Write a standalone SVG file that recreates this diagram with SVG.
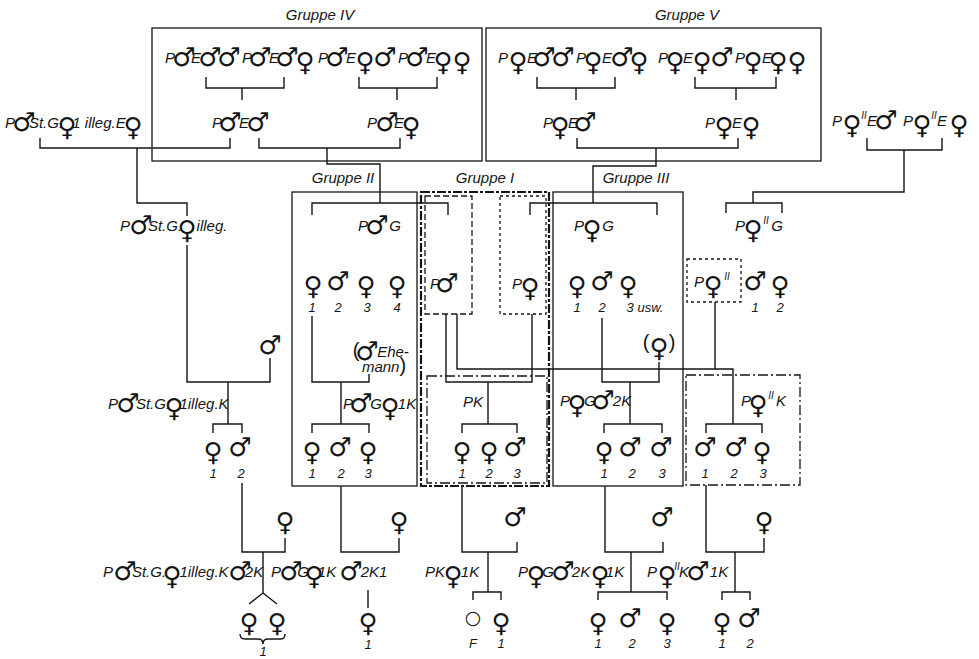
<svg xmlns="http://www.w3.org/2000/svg" width="979" height="659" viewBox="0 0 979 659">
<style>
.c{fill:none;stroke:#151515;stroke-width:1.4}
.bx{fill:none;stroke:#151515;stroke-width:1.3}
.dash{stroke-dasharray:6 3}
.dot{stroke-dasharray:3 3}
.dd{stroke-dasharray:10 3 2 3}
.heavy{fill:none;stroke:#151515;stroke-width:2.2;stroke-dasharray:9 2 3 2}
text{font-family:"Liberation Sans",Arial,sans-serif;font-style:italic;font-size:15px;fill:#151515;text-anchor:middle}
.f,.m{font-family:"DejaVu Sans",sans-serif;font-style:normal;font-size:26px}
.f{baseline-shift:-8px}
.m{baseline-shift:-3px}
.o{font-family:"DejaVu Sans",sans-serif;font-style:normal;font-size:19px}
.sup{font-size:10px;baseline-shift:7px}
.par{font-size:20px;font-style:normal}
.n{font-size:13px}
</style>

<g id="boxes">
<g id="box-gruppe-IV"><rect class="bx" x="152" y="28" width="330" height="133"/><text x="320" y="20">Gruppe IV</text></g>
<g id="box-gruppe-V"><rect class="bx" x="486" y="28" width="335" height="133"/><text x="687" y="20">Gruppe V</text></g>
<g id="box-gruppe-II"><rect class="bx" x="292" y="192" width="125" height="294"/><text x="343" y="183">Gruppe II</text></g>
<g id="box-gruppe-I"><rect class="heavy" x="421" y="192" width="128" height="294"/><text x="485" y="183">Gruppe I</text>
<rect class="bx dash" x="425" y="196" width="47" height="118"/>
<rect class="bx dot" x="500" y="196" width="46" height="118"/>
<rect class="bx dd" x="427" y="376" width="120" height="107"/></g>
<g id="box-gruppe-III"><rect class="bx" x="553" y="192" width="130" height="294"/><text x="636" y="183">Gruppe III</text></g>
<g id="box-PII"><rect class="bx dot" x="687" y="259" width="54" height="43"/></g>
<g id="box-PIIK"><rect class="bx dd" x="686" y="375" width="114" height="110"/></g>
</g>

<g id="connectors" class="c">
<path d="M206,77V88H284V77M242,88V100"/>
<path d="M359,77V88H437V77M397,88V100"/>
<path d="M537,77V88H615V77M576,88V100"/>
<path d="M695,77V88H776V77M736,88V100"/>
<path d="M40,138V148H230V138M137,148V203H187V216"/>
<path d="M259,138V148H400V138M327,148V164H380V203M312,215V203H448V215"/>
<path d="M577,138V148H738V138M656,148V166H593V203M530,215V203H657V215"/>
<path d="M867,138V150H942V138M904,150V192H753V203M726,213V203H782V213"/>
<path d="M187,245V382H270V358M228,382V424M213,433V424H242V433"/>
<path d="M312,316V382H369V374M341,382V424M312,433V424H369V433"/>
<path d="M446,314V382H532V314M488,382V424M462,433V424H517V433"/>
<path d="M457,314V369H733V424M715,302V369M706,433V424H762V433"/>
<path d="M602,318V382H659V362M630,382V424M604,433V424H662V433"/>
<path d="M242,483V552H285V538M263,552V593L249,604M263,593L277,604"/>
<path d="M240,634Q240,639 245,639H258Q263,639 263,644Q263,639 268,639H281Q285,639 285,634"/>
<path d="M341,486V552H399V538M368,590V608"/>
<path d="M462,485V552H517V542M488,552V592M473,600V592H501V600"/>
<path d="M605,486V552H663V542M631,552V592M598,600V592H667V600"/>
<path d="M706,485V552H764V538M735,552V592M722,600V592H750V600"/>
</g>

<g id="n-IV-a"><text y="63"><tspan x="170">P</tspan><tspan class="m" x="184">♂</tspan><tspan x="196">E</tspan><tspan class="m" x="210">♂</tspan><tspan class="m" x="229">♂</tspan><tspan x="247">P</tspan><tspan class="m" x="260">♂</tspan><tspan x="274">E</tspan><tspan class="m" x="287">♂</tspan><tspan class="f" x="305">♀</tspan></text></g>
<g id="n-IV-b"><text y="63"><tspan x="323">P</tspan><tspan class="m" x="337">♂</tspan><tspan x="351">E</tspan><tspan class="f" x="365">♀</tspan><tspan class="m" x="385">♂</tspan><tspan x="403">P</tspan><tspan class="m" x="417">♂</tspan><tspan x="431">E</tspan><tspan class="f" x="443">♀</tspan><tspan class="f" x="462">♀</tspan></text></g>
<g id="n-V-a"><text y="63"><tspan x="503">P</tspan><tspan class="f" x="518">♀</tspan><tspan x="532">E</tspan><tspan class="m" x="544">♂</tspan><tspan class="m" x="563">♂</tspan><tspan x="581">P</tspan><tspan class="f" x="593">♀</tspan><tspan x="607">E</tspan><tspan class="m" x="622">♂</tspan><tspan class="f" x="639">♀</tspan></text></g>
<g id="n-V-b"><text y="63"><tspan x="663">P</tspan><tspan class="f" x="675">♀</tspan><tspan x="688">E</tspan><tspan class="f" x="702">♀</tspan><tspan class="m" x="722">♂</tspan><tspan x="740">P</tspan><tspan class="f" x="753">♀</tspan><tspan x="767">E</tspan><tspan class="f" x="778">♀</tspan><tspan class="f" x="797">♀</tspan></text></g>

<g id="n-illeg-E"><text y="128"><tspan x="10">P</tspan><tspan class="m" x="24">♂</tspan><tspan x="46">St.G.</tspan><tspan class="f" x="67">♀</tspan><tspan x="99">1 illeg.E</tspan><tspan class="f" x="133">♀</tspan></text></g>
<g id="n-IV-c"><text y="128"><tspan x="217">P</tspan><tspan class="m" x="230">♂</tspan><tspan x="244">E</tspan><tspan class="m" x="258">♂</tspan></text></g>
<g id="n-IV-d"><text y="128"><tspan x="372">P</tspan><tspan class="m" x="387">♂</tspan><tspan x="399">E</tspan><tspan class="f" x="411">♀</tspan></text></g>
<g id="n-V-c"><text y="128"><tspan x="548">P</tspan><tspan class="f" x="560">♀</tspan><tspan x="573">E</tspan><tspan class="m" x="585">♂</tspan></text></g>
<g id="n-V-d"><text y="128"><tspan x="710">P</tspan><tspan class="f" x="724">♀</tspan><tspan x="737">E</tspan><tspan class="f" x="751">♀</tspan></text></g>
<g id="n-II-E"><text y="126"><tspan x="837">P</tspan><tspan class="f" x="852">♀</tspan><tspan class="sup" x="864">II</tspan><tspan x="872">E</tspan><tspan class="m" x="886">♂</tspan><tspan x="908">P</tspan><tspan class="f" x="922">♀</tspan><tspan class="sup" x="934">II</tspan><tspan x="942">E</tspan><tspan class="f" x="959">♀</tspan></text></g>

<g id="n-illeg"><text y="231"><tspan x="125">P</tspan><tspan class="m" x="141">♂</tspan><tspan x="165">St.G.</tspan><tspan class="f" x="187">♀</tspan><tspan x="212">illeg.</tspan></text></g>
<g id="n-II-G"><text y="231"><tspan x="363">P</tspan><tspan class="m" x="377">♂</tspan><tspan x="395">G</tspan></text></g>
<g id="n-III-G"><text y="231"><tspan x="579">P</tspan><tspan class="f" x="592">♀</tspan><tspan x="608">G</tspan></text></g>
<g id="n-PII-G"><text y="231"><tspan x="740">P</tspan><tspan class="f" x="753">♀</tspan><tspan class="sup" x="766">II</tspan><tspan x="777">G</tspan></text></g>

<g id="n-II-children"><text y="287"><tspan class="f" x="313">♀</tspan><tspan class="m" x="338">♂</tspan><tspan class="f" x="366">♀</tspan><tspan class="f" x="397">♀</tspan></text>
<text class="n" y="312"><tspan x="312">1</tspan><tspan x="338">2</tspan><tspan x="367">3</tspan><tspan x="397">4</tspan></text></g>
<g id="n-I-m"><text y="289"><tspan x="435">P</tspan><tspan class="m" x="447">♂</tspan></text></g>
<g id="n-I-f"><text y="289"><tspan x="517">P</tspan><tspan class="f" x="530">♀</tspan></text></g>
<g id="n-III-children"><text y="287"><tspan class="f" x="577">♀</tspan><tspan class="m" x="602">♂</tspan><tspan class="f" x="628">♀</tspan></text>
<text class="n" y="312"><tspan x="577">1</tspan><tspan x="602">2</tspan><tspan x="645">3 usw.</tspan></text></g>
<g id="n-PII"><text y="287"><tspan x="699">P</tspan><tspan class="f" x="713">♀</tspan><tspan class="sup" x="727">II</tspan></text></g>
<g id="n-PII-children"><text y="287"><tspan class="m" x="755">♂</tspan><tspan class="f" x="780">♀</tspan></text>
<text class="n" y="312"><tspan x="755">1</tspan><tspan x="780">2</tspan></text></g>

<g id="n-ehemann"><text y="357"><tspan class="par" x="356">(</tspan><tspan class="m" x="367">♂</tspan><tspan x="393">Ehe-</tspan></text><text x="384" y="372"><tspan>mann</tspan><tspan class="par">)</tspan></text></g>
<g id="n-III-spouse"><text y="349"><tspan class="par" x="646">(</tspan><tspan class="f" x="659">♀</tspan><tspan class="par" x="672">)</tspan></text></g>
<g id="n-left-spouse"><text y="351"><tspan class="m" x="270">♂</tspan></text></g>

<g id="n-illeg-K"><text y="409"><tspan x="113">P</tspan><tspan class="m" x="128">♂</tspan><tspan x="153">St.G.</tspan><tspan class="f" x="174">♀</tspan><tspan x="204">1illeg.K</tspan></text></g>
<g id="n-II-1K"><text y="409"><tspan x="348">P</tspan><tspan class="m" x="361">♂</tspan><tspan x="376">G</tspan><tspan class="f" x="390">♀</tspan><tspan x="407">1K</tspan></text></g>
<g id="n-PK"><text x="473" y="407">PK</text></g>
<g id="n-III-2K"><text y="406"><tspan x="565">P</tspan><tspan class="f" x="577">♀</tspan><tspan x="590">G</tspan><tspan class="m" x="603">♂</tspan><tspan x="622">2K</tspan></text></g>
<g id="n-PIIK"><text y="406"><tspan x="746">P</tspan><tspan class="f" x="758">♀</tspan><tspan class="sup" x="771">II</tspan><tspan x="781">K</tspan></text></g>

<g id="n-illeg-K-children"><text y="453"><tspan class="f" x="213">♀</tspan><tspan class="m" x="240">♂</tspan></text><text class="n" y="478"><tspan x="213">1</tspan><tspan x="241">2</tspan></text></g>
<g id="n-II-1K-children"><text y="453"><tspan class="f" x="312">♀</tspan><tspan class="m" x="340">♂</tspan><tspan class="f" x="368">♀</tspan></text><text class="n" y="478"><tspan x="312">1</tspan><tspan x="341">2</tspan><tspan x="368">3</tspan></text></g>
<g id="n-PK-children"><text y="453"><tspan class="f" x="462">♀</tspan><tspan class="f" x="489">♀</tspan><tspan class="m" x="515">♂</tspan></text><text class="n" y="478"><tspan x="462">1</tspan><tspan x="489">2</tspan><tspan x="517">3</tspan></text></g>
<g id="n-III-2K-children"><text y="453"><tspan class="f" x="604">♀</tspan><tspan class="m" x="630">♂</tspan><tspan class="m" x="661">♂</tspan></text><text class="n" y="478"><tspan x="604">1</tspan><tspan x="632">2</tspan><tspan x="662">3</tspan></text></g>
<g id="n-PIIK-children"><text y="453"><tspan class="m" x="705">♂</tspan><tspan class="m" x="736">♂</tspan><tspan class="f" x="762">♀</tspan></text><text class="n" y="478"><tspan x="705">1</tspan><tspan x="734">2</tspan><tspan x="763">3</tspan></text></g>

<g id="n-spouse-1"><text y="523"><tspan class="f" x="285">♀</tspan></text></g>
<g id="n-spouse-2"><text y="523"><tspan class="f" x="399">♀</tspan></text></g>
<g id="n-spouse-3"><text y="523"><tspan class="m" x="515">♂</tspan></text></g>
<g id="n-spouse-4"><text y="523"><tspan class="m" x="662">♂</tspan></text></g>
<g id="n-spouse-5"><text y="523"><tspan class="f" x="764">♀</tspan></text></g>

<g id="n-illeg-K-2K"><text y="577"><tspan x="108">P</tspan><tspan class="m" x="125">♂</tspan><tspan x="149">St.G.</tspan><tspan class="f" x="172">♀</tspan><tspan x="204">1illeg.K</tspan><tspan class="m" x="240">♂</tspan><tspan x="254">2K</tspan></text></g>
<g id="n-II-2K1"><text y="577"><tspan x="276">P</tspan><tspan class="m" x="291">♂</tspan><tspan x="303">G</tspan><tspan class="f" x="314">♀</tspan><tspan x="327">1K</tspan><tspan class="m" x="351">♂</tspan><tspan x="374">2K1</tspan></text></g>
<g id="n-PK-1K"><text y="577"><tspan x="435">PK</tspan><tspan class="f" x="453">♀</tspan><tspan x="470">1K</tspan></text></g>
<g id="n-III-1K"><text y="577"><tspan x="523">P</tspan><tspan class="f" x="536">♀</tspan><tspan x="548">G</tspan><tspan class="m" x="563">♂</tspan><tspan x="581">2K</tspan><tspan class="f" x="600">♀</tspan><tspan x="615">1K</tspan></text></g>
<g id="n-PIIK-1K"><text y="577"><tspan x="652">P</tspan><tspan class="f" x="667">♀</tspan><tspan class="sup" x="677">II</tspan><tspan x="684">K</tspan><tspan class="m" x="698">♂</tspan><tspan x="719">1K</tspan></text></g>

<g id="n-twins"><text y="624"><tspan class="f" x="249">♀</tspan><tspan class="f" x="277">♀</tspan></text><text class="n" x="263" y="656">1</text></g>
<g id="n-II-2K1-child"><text y="624"><tspan class="f" x="368">♀</tspan></text><text class="n" x="368" y="649">1</text></g>
<g id="n-PK-1K-children"><text y="624"><tspan class="o" x="473">○</tspan><tspan class="f" x="501">♀</tspan></text><text class="n" y="648"><tspan x="473">F</tspan><tspan x="501">1</tspan></text></g>
<g id="n-III-1K-children"><text y="624"><tspan class="f" x="598">♀</tspan><tspan class="m" x="630">♂</tspan><tspan class="f" x="667">♀</tspan></text><text class="n" y="648"><tspan x="598">1</tspan><tspan x="632">2</tspan><tspan x="667">3</tspan></text></g>
<g id="n-PIIK-1K-children"><text y="624"><tspan class="f" x="722">♀</tspan><tspan class="m" x="749">♂</tspan></text><text class="n" y="648"><tspan x="722">1</tspan><tspan x="750">2</tspan></text></g>
</svg>
